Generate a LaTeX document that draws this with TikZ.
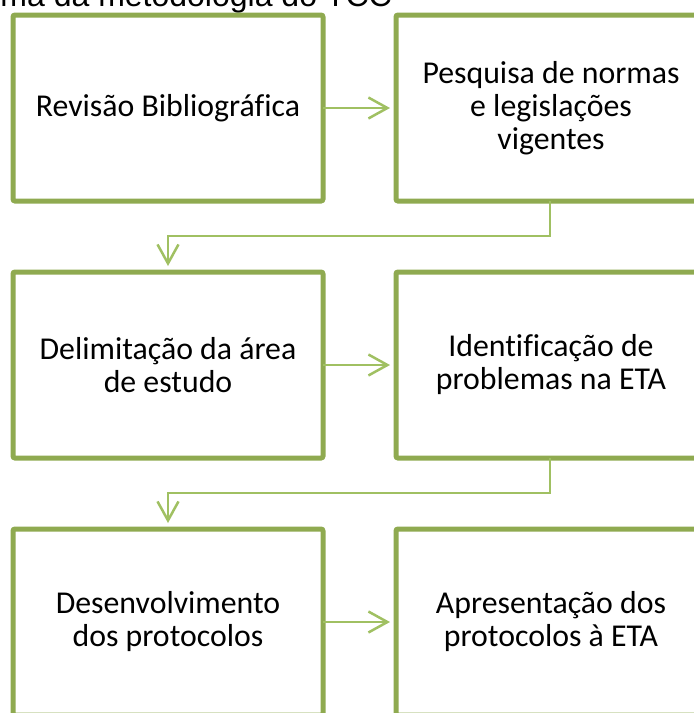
\documentclass[tikz,border=0pt]{standalone}
\usepackage{fontspec}
\setmainfont[Ligatures=NoCommon]{Carlito}
\newfontfamily\titlefont{Liberation Sans}
\usetikzlibrary{arrows.meta}
\definecolor{boxgreen}{RGB}{143,170,80}
\definecolor{linkgreen}{RGB}{160,192,98}
\begin{document}
\begin{tikzpicture}[x=1pt,y=-1pt,
  stepbox/.style={draw=boxgreen, line width=5pt, rounded corners=2pt, fill=white,
    minimum width=310pt, minimum height=186pt, inner sep=0pt, outer sep=0pt,
    align=center, font=\fontsize{31.8}{33}\selectfont},
  link/.style={draw=linkgreen, line width=2.5pt,
    -{Straight Barb[length=19pt,width=21pt,line width=2.5pt]}}]
\useasboundingbox (0,0) rectangle (694,713);
\clip (0,0) rectangle (694,713);
\node[anchor=base east, inner sep=0pt, font=\titlefont\fontsize{32}{36}\selectfont] (title) at (392,6) {ma da metodologia do TCC};
\node[stepbox] (a) at (168,108) {Revisão Bibliográfica};
\node[stepbox] (b) at (551,108) {Pesquisa de normas\\e legislações\\vigentes};
\node[stepbox] (c) at (168,365) {Delimitação da área\\de estudo};
\node[stepbox] (d) at (551,365) {Identificação de\\problemas na ETA};
\node[stepbox] (e) at (168,622) {Desenvolvimento\\dos protocolos};
\node[stepbox] (f) at (551,622) {Apresentação dos\\protocolos à ETA};
\coordinate (k1) at (550,236);
\coordinate (k2) at (168,236);
\coordinate (k3) at (550,493);
\coordinate (k4) at (168,493);
\draw[link, shorten >=6pt] (a.east) -- (b.west);
\draw[link, shorten >=6pt] (c.east) -- (d.west);
\draw[link, shorten >=6pt] (e.east) -- (f.west);
\draw[link, shorten >=6pt] (b.south -| k1) -- (k1) -- (k2) -- (c.north);
\draw[link, shorten >=6pt] (d.south -| k3) -- (k3) -- (k4) -- (e.north);
\end{tikzpicture}
\end{document}
